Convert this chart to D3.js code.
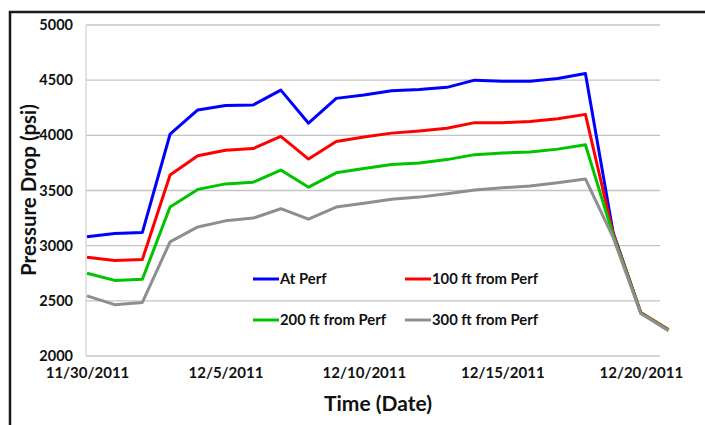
<!DOCTYPE html>
<html>
<head>
<meta charset="utf-8">
<script src="https://cdn.jsdelivr.net/npm/d3@7"></script>
<style>
  body { margin: 0; background: #fff; }
  text { font-family: Lato, "Open Sans", sans-serif; font-weight: bold; fill: #111; }
</style>
</head>
<body>
<svg id="chart" width="705" height="425"></svg>
<script>
// values, one point per day
const dates = ['11/30/2011', '12/1/2011', '12/2/2011', '12/3/2011', '12/4/2011', '12/5/2011', '12/6/2011',
  '12/7/2011', '12/8/2011', '12/9/2011', '12/10/2011', '12/11/2011', '12/12/2011', '12/13/2011',
  '12/14/2011', '12/15/2011', '12/16/2011', '12/17/2011', '12/18/2011', '12/19/2011', '12/20/2011', '12/21/2011'];
const atPerf = [3080, 3110, 3120, 4010, 4230, 4270, 4275, 4410, 4110, 4335, 4365, 4405, 4415, 4435,
  4500, 4490, 4490, 4515, 4560, 3120, 2390, 2235];
const ft100 = [2895, 2865, 2875, 3640, 3815, 3865, 3880, 3990, 3785, 3945, 3985, 4020, 4040, 4065,
  4115, 4115, 4125, 4150, 4190, 3110, 2395, 2240];
const ft200 = [2750, 2685, 2695, 3350, 3510, 3560, 3575, 3685, 3530, 3660, 3700, 3735, 3750, 3780,
  3825, 3840, 3850, 3875, 3915, 3095, 2390, 2235];
const ft300 = [2545, 2465, 2485, 3035, 3170, 3225, 3250, 3335, 3240, 3350, 3385, 3420, 3440, 3470,
  3505, 3525, 3540, 3570, 3605, 3075, 2385, 2230];
const seriesNames = ['At Perf', '100 ft from Perf', '200 ft from Perf', '300 ft from Perf'];
const yTicks = [2000, 2500, 3000, 3500, 4000, 4500, 5000];
const xTicks = ['11/30/2011', '12/5/2011', '12/10/2011', '12/15/2011', '12/20/2011'];

const parse = d3.utcParse('%m/%d/%Y');
const fmt = d3.utcFormat('%-m/%-d/%Y');
const series = [atPerf, ft100, ft200, ft300];
const colors = ['#0000ff', '#ff0000', '#00c400', '#8e8e8e'];

const svg = d3.select('#chart');

const x = d3.scaleUtc()
  .domain([parse(dates[0]), parse(dates[dates.length - 1])])
  .range([87, 668.5]);
const y = d3.scaleLinear()
  .domain([2000, 5000])
  .range([356, 25]);

// outer frame (only left and top edges fall inside the picture)
svg.append('path')
  .attr('d', 'M10,430V12H710')
  .attr('fill', 'none')
  .attr('stroke', '#1a1a1a')
  .attr('stroke-width', 2.5);

// gridlines
svg.append('g')
  .selectAll('line')
  .data(yTicks)
  .join('line')
  .attr('x1', 86)
  .attr('x2', 660)
  .attr('y1', (d) => y(d))
  .attr('y2', (d) => y(d))
  .attr('stroke', '#c4c4c4')
  .attr('stroke-width', 1.3);

svg.append('line')
  .attr('x1', 86).attr('x2', 86)
  .attr('y1', y(5000)).attr('y2', y(2000))
  .attr('stroke', '#d4d4d4')
  .attr('stroke-width', 1.3);

// y axis labels
const yAxis = svg.append('g')
  .attr('transform', 'translate(73,0)')
  .call(d3.axisLeft(y).tickValues(yTicks).tickSize(0).tickPadding(0).tickFormat(d3.format('d')));
yAxis.select('.domain').remove();
yAxis.selectAll('text').style('font-size', '14.5px').attr('fill', '#111');

// x axis labels
const xAxis = svg.append('g')
  .attr('transform', 'translate(0,367)')
  .call(d3.axisBottom(x).tickValues(xTicks.map(parse)).tickSize(0).tickPadding(0).tickFormat(fmt));
xAxis.select('.domain').remove();
xAxis.selectAll('text').style('font-size', '15px').attr('fill', '#111');

// axis titles
svg.append('text')
  .text('Pressure Drop (psi)')
  .attr('transform', 'translate(36,190) rotate(-90)')
  .attr('text-anchor', 'middle')
  .style('font-size', '20.5px');

svg.append('text')
  .text('Time (Date)')
  .attr('x', 378)
  .attr('y', 411)
  .attr('text-anchor', 'middle')
  .style('font-size', '21px');

// lines
const line = d3.line()
  .x((d, i) => x(parse(dates[i])))
  .y((d) => y(d));

svg.append('g')
  .selectAll('path')
  .data(series)
  .join('path')
  .attr('d', line)
  .attr('fill', 'none')
  .attr('stroke', (d, i) => colors[i])
  .attr('stroke-width', 3)
  .attr('stroke-linejoin', 'round');

// legend, two rows of two
const legend = svg.append('g')
  .selectAll('g')
  .data(seriesNames)
  .join('g')
  .attr('transform', (d, i) => `translate(${i % 2 === 0 ? 253 : 405}, ${i < 2 ? 279 : 320})`);

legend.append('line')
  .attr('x1', 0).attr('x2', 26)
  .attr('stroke', (d, i) => colors[i])
  .attr('stroke-width', 3);

legend.append('text')
  .text((d) => d)
  .attr('x', 27)
  .attr('dy', '0.36em')
  .style('font-size', '14.8px');
</script>
</body>
</html>
